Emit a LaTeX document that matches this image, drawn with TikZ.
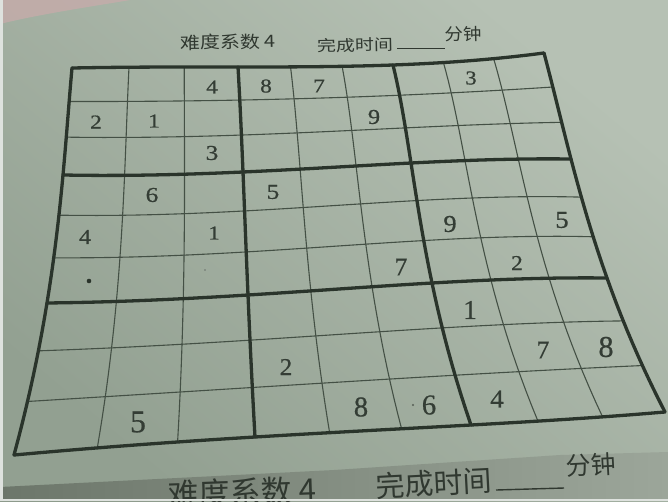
\documentclass[tikz,border=0pt]{standalone}
\usepackage{fontspec}
\newfontfamily\cjk{Noto Sans CJK SC}
\newfontfamily\digitfont[FakeBold=0.6]{Liberation Serif}
\definecolor{paperA}{RGB}{146,160,145}
\definecolor{paperB}{RGB}{182,193,180}
\definecolor{pinkish}{RGB}{196,172,170}
\definecolor{banddark}{RGB}{108,118,106}
\definecolor{bandlight}{RGB}{156,166,154}
\definecolor{inkcol}{RGB}{42,52,43}
\definecolor{thincol}{RGB}{68,80,69}
\definecolor{digitcol}{RGB}{52,61,53}
\definecolor{titlecol}{RGB}{48,56,48}
\definecolor{edgewhite}{RGB}{222,226,222}
\begin{document}
\begin{tikzpicture}[x=1pt,y=-1pt,
  declare function={
    La(\p)=(\p-1)*(\p-2)*(\p-3)/(-6);
    Lb(\p)=\p*(\p-2)*(\p-3)/2;
    Lc(\p)=\p*(\p-1)*(\p-3)/(-2);
    Ld(\p)=\p*(\p-1)*(\p-2)/6;
    XRa(\p)=La(\p)*72+Lb(\p)*238+Lc(\p)*393+Ld(\p)*544;
    XRb(\p)=La(\p)*63+Lb(\p)*243+Lc(\p)*411+Ld(\p)*571;
    XRc(\p)=La(\p)*47+Lb(\p)*248+Lc(\p)*432+Ld(\p)*607;
    XRd(\p)=La(\p)*14+Lb(\p)*255+Lc(\p)*471+Ld(\p)*665;
    YRa(\p)=La(\p)*68+Lb(\p)*67+Lc(\p)*65+Ld(\p)*53;
    YRb(\p)=La(\p)*175+Lb(\p)*172+Lc(\p)*163+Ld(\p)*159;
    YRc(\p)=La(\p)*303+Lb(\p)*295+Lc(\p)*283+Ld(\p)*278;
    YRd(\p)=La(\p)*455+Lb(\p)*437+Lc(\p)*425+Ld(\p)*412;
    GX(\p,\q)=La(\q)*XRa(\p)+Lb(\q)*XRb(\p)+Lc(\q)*XRc(\p)+Ld(\q)*XRd(\p);
    GY(\p,\q)=La(\q)*YRa(\p)+Lb(\q)*YRb(\p)+Lc(\q)*YRc(\p)+Ld(\q)*YRd(\p);
  },
  thinline/.style={line width=1.1pt, draw=thincol, line join=round},
  thickline/.style={line width=3.3pt, draw=inkcol, line join=round, line cap=round},
  digit/.style={inner sep=0pt, text=digitcol, font=\digitfont\fontsize{20}{20}\selectfont},
  ttl/.style={inner sep=0pt, text=titlecol},
]
\useasboundingbox (0,0) rectangle (668,501);
\clip (0,0) rectangle (668,501);
% paper
\shade[top color=paperB, bottom color=paperA, shading angle=-40] (0,0) rectangle (668,501);
% pink corner
\fill[pinkish, opacity=0.85] (0,0) -- (130,0) .. controls (95,6) and (40,14) .. (0,24) -- cycle;
% dark band at the bottom
\shade[left color=banddark, right color=bandlight] (0,487) -- (334,470) -- (560,455) -- (668,452) -- (668,501) -- (0,501) -- cycle;

% thin grid lines
\foreach \j in {1,2,4,5,7,8} {
  \draw[thinline] plot[domain=0:3, samples=31, variable=\s] ({GX(\s,\j/3)},{GY(\s,\j/3)});
  \draw[thinline] plot[domain=0:3, samples=31, variable=\s] ({GX(\j/3,\s)},{GY(\j/3,\s)});
}
% thick grid lines
\foreach \j in {0,3,6,9} {
  \draw[thickline] plot[domain=0:3, samples=31, variable=\s] ({GX(\s,\j/3)},{GY(\s,\j/3)});
  \draw[thickline] plot[domain=0:3, samples=31, variable=\s] ({GX(\j/3,\s)},{GY(\j/3,\s)});
}

% digits
\foreach \r/\c/\d/\px/\py/\h/\xs in {
  0/2/4/212/87/13/1.2, 0/3/8/266/86/13/1.2, 0/4/7/319/86/13/1.2, 0/7/3/471/78/13/1.15,
  1/0/2/96/122/13/1.2, 1/1/1/154/121/13/1.2, 1/5/9/374/117/14/1.15,
  2/2/3/212/153/14/1.2,
  3/1/6/152/195/14/1.2, 3/3/5/273/192/14/1.2,
  4/0/4/85/237/14/1.15, 4/2/1/214/233/13/1.15, 4/6/9/450/224/16/1.1, 4/8/5/562/220/16/1.1,
  5/5/7/401/267/17/1.0, 5/7/2/517/263/14/1.1,
  6/6/1/470/310/18/1.0,
  7/3/2/286/367/16/1.05, 7/7/7/543/350/17/1.0, 7/8/8/606/347/20/1.0,
  8/1/5/138/422/21/1.0, 8/4/8/361/407/19/1.0, 8/5/6/429/405/19/1.0, 8/6/4/497/399/17/1.05} {
  \pgfmathsetmacro\sy{\h/13.24}
  \pgfmathsetmacro\sx{\sy*\xs}
  \node[digit, xscale=\sx, yscale=\sy] (d\r\c) at (\px,\py) {\d};
}
% ink dots
\fill[inkcol] (89,281) circle (2.3);
\fill[inkcol!70] (205,270) circle (0.8);
\fill[inkcol!80] (413,405) circle (1.1);

% top title
\node[ttl, font=\cjk\fontsize{20}{22}\selectfont, yscale=0.85, rotate=1] (t1) at (228,42) {难度系数 4};
\node[ttl, font=\cjk\fontsize{19}{22}\selectfont, yscale=0.8, rotate=1] (t2) at (355,45) {完成时间};
\coordinate (u1) at (397,48);
\coordinate (u2) at (445,48);
\draw[titlecol, line width=1pt] (u1) -- (u2);
\node[ttl, font=\cjk\fontsize{18.5}{22}\selectfont, yscale=0.9, rotate=1] (t3) at (463,34) {分钟};

% bottom title (second copy, cut off by the photo edge)
\node[ttl, font=\cjk\fontsize{31}{34}\selectfont, rotate=2] (b1) at (242,492) {难度系数 4};
\node[ttl, font=\cjk\fontsize{29}{32}\selectfont, rotate=3] (b2) at (434,483) {完成时间};
\coordinate (v1) at (496,490);
\coordinate (v2) at (564,488);
\draw[titlecol, line width=1.4pt] (v1) -- (v2);
\node[ttl, font=\cjk\fontsize{25}{28}\selectfont, rotate=3] (b3) at (591,465) {分钟};

% light photo edges
\fill[edgewhite] (0,499) rectangle (668,501);
\fill[edgewhite] (0,0) rectangle (3,501);
\end{tikzpicture}
\end{document}
